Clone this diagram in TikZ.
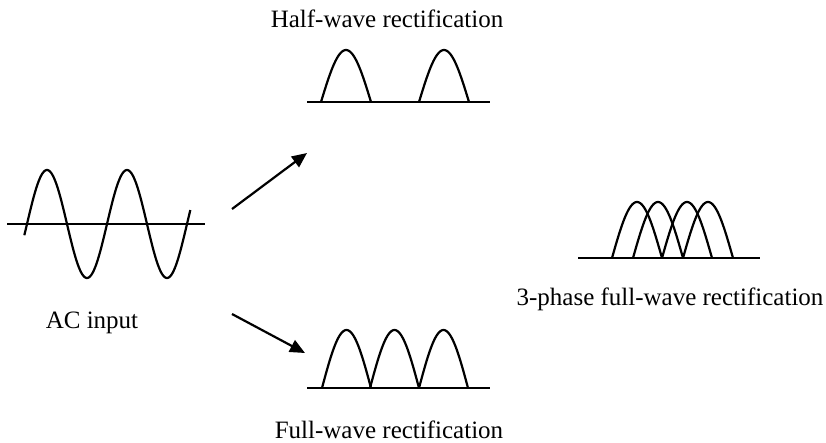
\documentclass[tikz,border=0pt]{standalone}
\usepackage{fontspec}
\setmainfont{Liberation Serif}
\usetikzlibrary{arrows.meta}

\begin{document}
\begin{tikzpicture}[
    x=1pt, y=-1pt,
    font=\fontsize{25}{29}\selectfont,
    onda/.style={line width=2.2pt, line join=round},
    asse/.style={line width=2.2pt},
    etichetta/.style={anchor=base, inner sep=0pt},
    freccia/.style={line width=2.2pt, -{Triangle[length=15pt,width=13pt]}}]

  \useasboundingbox (0,0) rectangle (826,442);

  % ingresso AC
  \draw[asse] (7,224) -- (205,224);
  \draw[onda] plot[domain=-12:735, samples=150] ({27+\x/360*80}, {224-54*sin(\x)});

  % raddrizzamento a semionda
  \draw[asse] (307,102) -- (490,102);
  \foreach \xa in {321,419}
    \draw[onda] plot[domain=0:180, samples=40] ({\xa+\x/180*50}, {102-52*sin(\x)});

  % raddrizzamento a onda intera
  \draw[asse] (307,388) -- (490,388);
  \foreach \xa in {322,370,419}
    \draw[onda] plot[domain=0:180, samples=40] ({\xa+\x/180*49}, {388-58*sin(\x)});

  % trifase a onda intera
  \draw[asse] (578,258) -- (760,258);
  \foreach \xa in {612,633,662,683}
    \draw[onda] plot[domain=0:180, samples=40] ({\xa+\x/180*50}, {258-56*sin(\x)});

  % etichette
  \node[etichetta] (semi)   at (387,27)  {Half-wave rectification};
  \node[etichetta] (ac)     at (92,328)  {AC input};
  \node[etichetta] (tri)    at (670,305) {3-phase full-wave rectification};
  \node[etichetta] (intera) at (389,438) {Full-wave rectification};

  % frecce
  \coordinate (su0)  at (232,209);
  \coordinate (su1)  at (307,153);
  \coordinate (giu0) at (232,314);
  \coordinate (giu1) at (305,353);
  \draw[freccia] (su0) -- (su1);
  \draw[freccia] (giu0) -- (giu1);

\end{tikzpicture}
\end{document}
